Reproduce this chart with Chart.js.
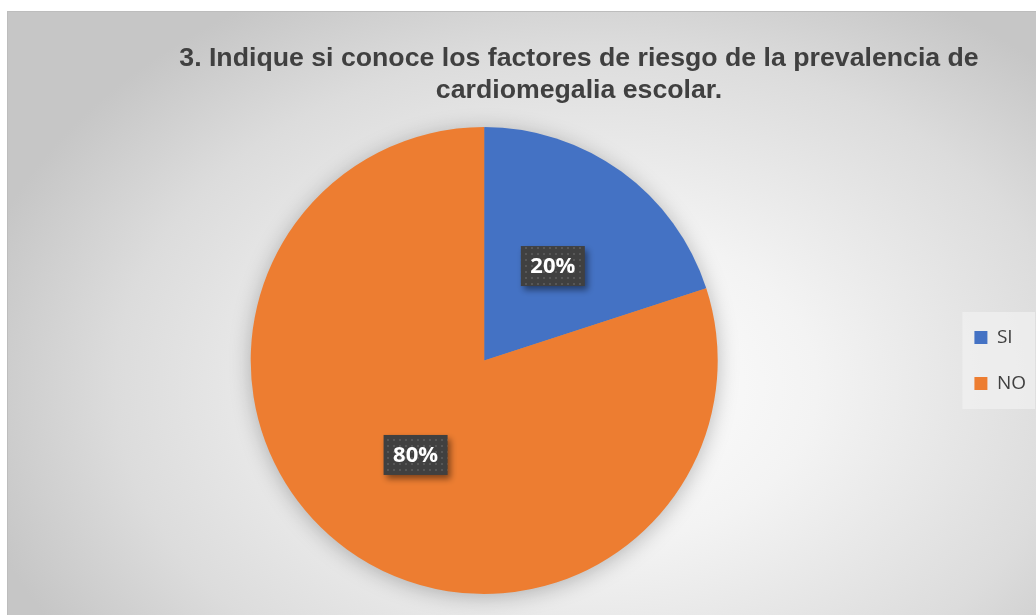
<!DOCTYPE html>
<html>
<head>
<meta charset="utf-8">
<script src="https://cdn.jsdelivr.net/npm/chart.js@4.4.0/dist/chart.umd.min.js"></script>
<style>
  html, body { margin: 0; padding: 0; background: #ffffff; }
  #marco {
    position: absolute; left: 7px; top: 11px;
    width: 1029px; height: 604px; box-sizing: border-box;
    border-top: 1px solid #bdbdbd; border-left: 1px solid #bdbdbd;
    background: radial-gradient(ellipse 62% 75% at 57% 62%, #ffffff 0%, #f3f3f3 35%, #dcdcdc 75%, #c6c6c6 100%);
  }
  #grafico { display: block; }
</style>
</head>
<body>
<div id="marco"><canvas id="grafico" width="1028" height="603"></canvas></div>
<script>
// ===== Datos =====
const categorias = ['SI', 'NO'];
const valores = [20, 80];
const colores = ['#4472C4', '#ED7D31'];
const tituloLineas = [
  '3. Indique si conoce los factores de riesgo de la prevalencia de',
  'cardiomegalia escolar.'
];

// patrón de puntos para las etiquetas
function patronPuntos(ctx) {
  const p = document.createElement('canvas');
  p.width = 6; p.height = 6;
  const c = p.getContext('2d');
  c.fillStyle = '#404040';
  c.fillRect(0, 0, 6, 6);
  c.fillStyle = '#575757';
  c.fillRect(1, 1, 2, 2);
  return ctx.createPattern(p, 'repeat');
}

// título dibujado a mano (centrado como en el original)
const pluginTitulo = {
  id: 'tituloPropio',
  afterDraw(chart) {
    const ctx = chart.ctx;
    ctx.save();
    ctx.fillStyle = '#404040';
    ctx.font = 'bold 26.7px "Liberation Sans", Arial, sans-serif';
    ctx.textAlign = 'center';
    ctx.textBaseline = 'middle';
    ctx.fillText(tituloLineas[0], 571, 47);
    ctx.fillText(tituloLineas[1], 571, 79);
    ctx.restore();
  }
};

// fondo claro detrás de la leyenda
const pluginFondoLeyenda = {
  id: 'fondoLeyenda',
  beforeDraw(chart) {
    const cajas = chart.legend && chart.legend.legendHitBoxes;
    if (!cajas || !cajas.length) return;
    const top = Math.min(...cajas.map(b => b.top));
    const bottom = Math.max(...cajas.map(b => b.top + b.height));
    const left = Math.min(...cajas.map(b => b.left));
    const ctx = chart.ctx;
    ctx.save();
    ctx.fillStyle = 'rgba(240,240,240,0.75)';
    ctx.fillRect(left - 12, top - 16, 1027 - (left - 12), bottom - top + 32);
    ctx.restore();
  }
};

// sombra suave del pastel
const pluginSombra = {
  id: 'sombraPastel',
  beforeDatasetsDraw(chart) {
    const arco = chart.getDatasetMeta(0).data[0];
    if (!arco) return;
    const ctx = chart.ctx;
    ctx.save();
    ctx.shadowColor = 'rgba(0,0,0,0.28)';
    ctx.shadowBlur = 22;
    ctx.shadowOffsetY = 3;
    ctx.fillStyle = '#999';
    ctx.beginPath();
    ctx.arc(arco.x, arco.y, arco.outerRadius - 1, 0, Math.PI * 2);
    ctx.fill();
    ctx.restore();
  }
};

// etiquetas de porcentaje
const pluginEtiquetas = {
  id: 'etiquetas',
  afterDatasetsDraw(chart) {
    const ctx = chart.ctx;
    const total = valores.reduce((a, b) => a + b, 0);
    const patron = patronPuntos(ctx);
    chart.getDatasetMeta(0).data.forEach((arco, i) => {
      const pos = arco.tooltipPosition();
      const texto = Math.round(valores[i] / total * 100) + '%';
      const w = 64, h = 40;
      ctx.save();
      ctx.shadowColor = 'rgba(0,0,0,0.45)';
      ctx.shadowBlur = 6;
      ctx.shadowOffsetX = 3;
      ctx.shadowOffsetY = 4;
      ctx.fillStyle = patron;
      ctx.fillRect(pos.x - w / 2, pos.y - h / 2, w, h);
      ctx.restore();
      ctx.save();
      ctx.fillStyle = '#ffffff';
      ctx.font = 'bold 22px "Open Sans", sans-serif';
      ctx.textAlign = 'center';
      ctx.textBaseline = 'middle';
      ctx.fillText(texto, pos.x, pos.y + 1);
      ctx.restore();
    });
  }
};

const ctx = document.getElementById('grafico').getContext('2d');
const grafico = new Chart(ctx, {
  type: 'pie',
  data: {
    labels: categorias,
    datasets: [{
      data: valores,
      backgroundColor: colores,
      borderWidth: 0
    }]
  },
  options: {
    responsive: false,
    animation: false,
    layout: { padding: { top: 115, bottom: 21, left: 13, right: 0 } },
    plugins: {
      legend: {
        position: 'right',
        labels: {
          boxWidth: 13,
          boxHeight: 13,
          padding: 27,
          color: '#404040',
          font: { family: '"Open Sans", sans-serif', size: 19 }
        }
      },
      tooltip: { enabled: false }
    }
  },
  plugins: [pluginFondoLeyenda, pluginSombra, pluginEtiquetas, pluginTitulo]
});
</script>
</body>
</html>
